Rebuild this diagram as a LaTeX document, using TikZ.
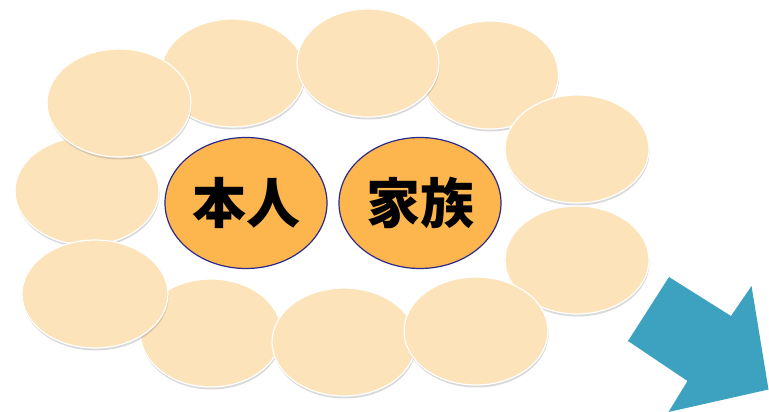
\documentclass[tikz,border=0pt]{standalone}
\usepackage{fontspec}
\newfontfamily\cjk{Noto Sans CJK JP}
\usetikzlibrary{shapes.geometric,shadows}
\definecolor{petalfill}{HTML}{FDE3B9}
\definecolor{corefill}{HTML}{FDB54D}
\definecolor{coreline}{HTML}{2B2A8A}
\definecolor{arrowfill}{HTML}{3DA2BF}
\tikzset{
  petal/.style={ellipse, minimum width=144pt, minimum height=108pt,
    fill=petalfill, draw=white, line width=1.2pt,
    drop shadow={shadow xshift=0.6pt, shadow yshift=-2.5pt, opacity=0.3}},
  core/.style={ellipse, minimum width=162pt, minimum height=131pt, inner sep=0pt,
    fill=corefill, draw=coreline, line width=1.2pt,
    font=\cjk\bfseries\fontsize{54}{60}\selectfont}
}
\begin{document}
\begin{tikzpicture}[x=1pt,y=-1pt]
\useasboundingbox (0,0) rectangle (769,412);
\clip (0,0) rectangle (769,412);

% ring of petals
\node[petal] (pb) at (233,73) {};
\node[petal, minimum width=137pt] (pd) at (490,75) {};
\node[petal, minimum width=142pt] (pc) at (368,63) {};
\node[petal] (pe) at (577,149) {};
\node[petal] (pf) at (577,260) {};
\node[petal, minimum width=141pt] (pi) at (211,333) {};
\node[petal] (ph) at (344,342) {};
\node[petal] (pg) at (476,331) {};
\node[petal] (pk) at (87,191) {};
\node[petal, minimum width=146pt] (pj) at (95,294) {};
\node[petal] (pa) at (119,103) {};

% the two in the middle
\node[core] (self) at (246,203) {本人};
\node[core] (family) at (420,203) {家族};

% arrow, bottom right
\fill[arrowfill] (669,277) -- (731,316) -- (751.5,286) -- (768.5,389.5)
  -- (668.5,412) -- (687.5,381) -- (628,341) -- cycle;
\end{tikzpicture}
\end{document}
